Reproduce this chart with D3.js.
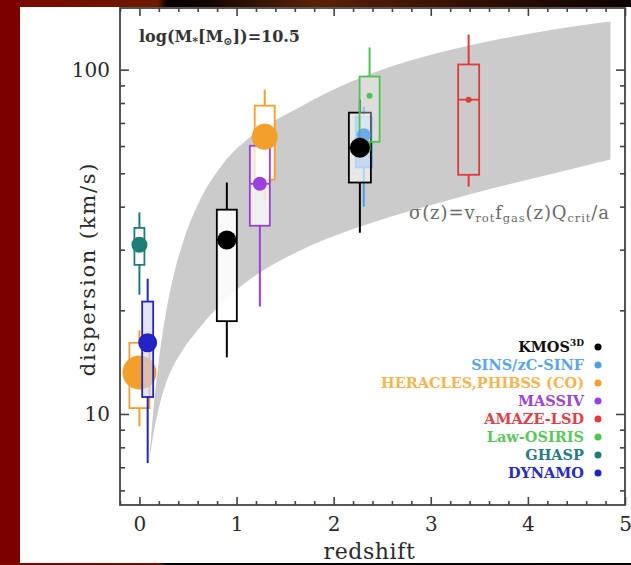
<!DOCTYPE html>
<html><head><meta charset="utf-8">
<script src="https://cdn.jsdelivr.net/npm/d3@7"></script>
<style>html,body{margin:0;padding:0;background:#7d0000;overflow:hidden}</style>
</head><body>
<svg id="c" width="631" height="565"></svg>
<script>
// ---------------- DATA ----------------
const legendSurveys = ["KMOS3D","SINS/zC-SINF","HERACLES,PHIBSS (CO)","MASSIV","AMAZE-LSD","Law-OSIRIS","GHASP","DYNAMO"];

// box-plot entries (velocity dispersion, km/s)
const boxSurvey   = ["HERACLES,PHIBSS (CO)","GHASP","DYNAMO","KMOS3D","HERACLES,PHIBSS (CO)","MASSIV","SINS/zC-SINF","KMOS3D","Law-OSIRIS","AMAZE-LSD"];
const boxZ        = [0.00, 0.00, 0.085, 0.90, 1.29, 1.24, 2.31, 2.27, 2.37, 3.39];
const whiskerLow  = [9.2, 22.2, 7.2, 14.6, 41.7, 20.5, 40.0, 33.6, 58.0, 45.7];
const boxLow      = [10.4, 27.1, 11.2, 18.6, 47.9, 35.2, 52.0, 47.0, 61.7, 49.5];
const boxMedian   = [13.2, 31.0, 16.1, 32.0, 63.8, 46.6, 64.5, 59.3, 84.0, 81.8];
const boxHigh     = [16.1, 34.7, 21.2, 39.2, 78.6, 60.1, 73.0, 75.0, 95.5, 103.5];
const whiskerHigh = [17.5, 38.5, 24.7, 47.0, 87.5, 68.6, 78.0, 81.8, 116.0, 126.4];

// model band sigma(z) = v_rot f_gas(z) Q_crit / a
const bandZ     = [0.10, 0.14, 0.20, 0.27, 0.35, 0.45, 0.62, 0.85, 1.14, 1.65, 2.17, 2.68, 3.20, 3.61, 4.20, 4.85];
const bandUpper = [7.3, 10.0, 14.3, 19.4, 25.1, 31.6, 41.6, 52.8, 63.7, 77.8, 92.0, 104, 114, 121, 130, 138];
const bandLower = [7.3, 8.6, 10.4, 12.2, 13.8, 15.4, 17.8, 21.0, 24.6, 29.8, 34.2, 38.1, 41.9, 45.0, 49.4, 54.8];

const xTickValues = [0, 1, 2, 3, 4, 5];
const yTickValues = [10, 100];
const yMinorValues = [6, 7, 8, 9, 20, 30, 40, 50, 60, 70, 80, 90];

// ---------------- STYLE ----------------
const surveyColor = {
  "KMOS3D":"#000000","SINS/zC-SINF":"#4d9de4","HERACLES,PHIBSS (CO)":"#f3a02a","MASSIV":"#9a3fe0",
  "AMAZE-LSD":"#e23a3a","Law-OSIRIS":"#4fc34f","GHASP":"#1f7d78","DYNAMO":"#2323c8"
};
const legendTextColor = {
  "KMOS3D":"#111","SINS/zC-SINF":"#5aa6ea","HERACLES,PHIBSS (CO)":"#f2b552","MASSIV":"#9b45df",
  "AMAZE-LSD":"#e0404a","Law-OSIRIS":"#5cc85c","GHASP":"#2b7a86","DYNAMO":"#2a2ac4"
};
const boxFill   = ["rgba(255,255,255,0.75)","rgba(255,255,255,0.9)","rgba(210,210,250,0.6)","rgba(255,255,255,0.88)","rgba(255,255,255,0.85)","rgba(255,255,255,0.7)","rgba(70,150,225,0.55)","rgba(255,255,255,0.55)","rgba(255,255,255,0.35)","none"];
const boxWidth  = [20, 10, 11, 20, 20, 20, 16, 22, 20, 21];
const markerR   = [17, 8, 9.5, 9.5, 13, 7, 7, 10, 3, 3];
const medianLine = [true, true, true, true, true, true, false, true, false, true];
const layer     = [0, 1, 1, 1, 1, 1, 1, 1, 1, 1];

const W = 631, H = 565;
const L = 120, R = 625, T = 8, B = 505;
const FONT = "'DejaVu Serif', serif";

const svg = d3.select("#c");
const defs = svg.append("defs");

// background decoration
const gTop = defs.append("linearGradient").attr("id","gtop");
[["0%","#7a0800"],["25%","#6c1a00"],["26.5%","#060000"],["33%","#150500"],["50%","#5a2208"],["70%","#3a1204"],["100%","#0c0200"]]
  .forEach(s => gTop.append("stop").attr("offset", s[0]).attr("stop-color", s[1]));
const gBot = defs.append("linearGradient").attr("id","gbot");
[["0%","#7a0800"],["25%","#6c1200"],["26.5%","#050000"],["100%","#080100"]]
  .forEach(s => gBot.append("stop").attr("offset", s[0]).attr("stop-color", s[1]));
svg.append("rect").attr("x",0).attr("y",0).attr("width",W).attr("height",H).attr("fill","#7d0000");
svg.append("rect").attr("x",0).attr("y",0).attr("width",W).attr("height",7).attr("fill","url(#gtop)");
svg.append("rect").attr("x",0).attr("y",0).attr("width",20).attr("height",H).attr("fill","#7d0000");
svg.append("rect").attr("x",20).attr("y",7).attr("width",W-20).attr("height",556).attr("fill","#ffffff");

defs.append("clipPath").attr("id","plotclip").append("rect")
  .attr("x",L).attr("y",T).attr("width",R-L).attr("height",B-T);

const x = d3.scaleLinear().domain([-0.2, 5.0]).range([L, R]);
const y = d3.scaleLog().domain([5.44, 151]).range([B, T]);

// band
const bandData = bandZ.map((z,i) => ({z, lo: bandLower[i], hi: bandUpper[i]}));
svg.append("path").datum(bandData)
  .attr("clip-path","url(#plotclip)")
  .attr("fill","#cbcbcb")
  .attr("d", d3.area().curve(d3.curveMonotoneX).x(d => x(d.z)).y0(d => y(d.lo)).y1(d => y(d.hi)));

// boxes
const items = boxZ.map((z,i) => ({
  i, z, s: boxSurvey[i], wl: whiskerLow[i], bl: boxLow[i], med: boxMedian[i], bh: boxHigh[i], wh: whiskerHigh[i]
}));
const plot = svg.append("g").attr("clip-path","url(#plotclip)");

function drawBox(g, d) {
  const c = surveyColor[d.s];
  const cx = x(d.z), w = boxWidth[d.i];
  g.append("line").attr("x1",cx).attr("x2",cx).attr("y1",y(d.wl)).attr("y2",y(d.bl))
    .attr("stroke",c).attr("stroke-width",2);
  g.append("line").attr("x1",cx).attr("x2",cx).attr("y1",y(d.bh)).attr("y2",y(d.wh))
    .attr("stroke",c).attr("stroke-width",2);
  g.append("rect").attr("x",cx-w/2).attr("y",y(d.bh)).attr("width",w).attr("height",y(d.bl)-y(d.bh))
    .attr("fill",boxFill[d.i]).attr("stroke",c).attr("stroke-width",1.8);
  if (medianLine[d.i]) {
    g.append("line").attr("x1",cx-w/2).attr("x2",cx+w/2).attr("y1",y(d.med)).attr("y2",y(d.med))
      .attr("stroke",c).attr("stroke-width",1.8);
  }
}
function drawMarker(g, d) {
  const c = surveyColor[d.s];
  g.append("circle").attr("cx",x(d.z)).attr("cy",y(d.med)).attr("r",markerR[d.i])
    .attr("fill",c).attr("fill-opacity", d.s === "SINS/zC-SINF" ? 0.8 : 1);
}
const layer0 = items.filter(d => layer[d.i] === 0);
const layer1 = items.filter(d => layer[d.i] === 1);
layer0.forEach(d => { drawBox(plot,d); drawMarker(plot,d); });
layer1.forEach(d => drawBox(plot,d));
layer1.forEach(d => drawMarker(plot,d));

// axes (ticks point inward)
function styleAxis(g) {
  g.select(".domain").remove();
  g.selectAll("line").attr("stroke","#444").attr("stroke-width",1.6);
  g.selectAll("text").attr("font-family",FONT).attr("font-size",20).attr("fill","#2a2a2a");
}
const minorX = d3.range(-0.2, 5.001, 0.2).filter(v => Math.abs(v - Math.round(v)) > 1e-6);

svg.append("g").attr("transform",`translate(0,${B})`)
  .call(d3.axisBottom(x).tickValues(xTickValues).tickFormat(d3.format("d")).tickSizeInner(-8).tickSizeOuter(0).tickPadding(12))
  .call(styleAxis);
svg.append("g").attr("transform",`translate(0,${B})`)
  .call(d3.axisBottom(x).tickValues(minorX).tickFormat("").tickSizeInner(-4).tickSizeOuter(0)).call(styleAxis);
svg.append("g").attr("transform",`translate(0,${T})`)
  .call(d3.axisTop(x).tickValues(xTickValues).tickFormat("").tickSizeInner(-8).tickSizeOuter(0)).call(styleAxis);
svg.append("g").attr("transform",`translate(0,${T})`)
  .call(d3.axisTop(x).tickValues(minorX).tickFormat("").tickSizeInner(-4).tickSizeOuter(0)).call(styleAxis);

svg.append("g").attr("transform",`translate(${L},0)`)
  .call(d3.axisLeft(y).tickValues(yTickValues).tickFormat(d3.format("d")).tickSizeInner(-9).tickSizeOuter(0).tickPadding(10))
  .call(styleAxis);
svg.append("g").attr("transform",`translate(${L},0)`)
  .call(d3.axisLeft(y).tickValues(yMinorValues).tickFormat("").tickSizeInner(-5).tickSizeOuter(0)).call(styleAxis);
svg.append("g").attr("transform",`translate(${R},0)`)
  .call(d3.axisRight(y).tickValues(yTickValues).tickFormat("").tickSizeInner(-9).tickSizeOuter(0)).call(styleAxis);
svg.append("g").attr("transform",`translate(${R},0)`)
  .call(d3.axisRight(y).tickValues(yMinorValues).tickFormat("").tickSizeInner(-5).tickSizeOuter(0)).call(styleAxis);

// frame
svg.append("rect").attr("x",L).attr("y",T).attr("width",R-L).attr("height",B-T)
  .attr("fill","none").attr("stroke","#444").attr("stroke-width",1.8);

// axis titles
svg.append("text").attr("x",(L+R)/2 - 3).attr("y",559).attr("text-anchor","middle")
  .attr("font-family",FONT).attr("font-size",22).attr("letter-spacing",0.6).attr("fill","#2a2a2a").text("redshift");
svg.append("text").attr("transform",`translate(95,${269}) rotate(-90)`).attr("text-anchor","middle")
  .attr("font-family",FONT).attr("font-size",21).attr("fill","#2a2a2a").attr("letter-spacing",1.8)
  .text("dispersion (km/s)");

// bottom strip
svg.append("rect").attr("x",0).attr("y",563).attr("width",W).attr("height",2).attr("fill","url(#gbot)");

// top-left label
const lab = svg.append("text").attr("x",139).attr("y",42)
  .attr("font-family",FONT).attr("font-size",16).attr("font-weight","bold").attr("fill","#333");
lab.append("tspan").text("log(M");
lab.append("tspan").attr("font-size",11).attr("dy",3).text("*");
lab.append("tspan").attr("dy",-3).text("[M");
lab.append("tspan").attr("font-size",11).attr("dy",3).text("\u2299");
lab.append("tspan").attr("dy",-3).text("])=10.5");

// formula annotation
const f = svg.append("text").attr("x",409).attr("y",219)
  .attr("font-family",FONT).attr("font-size",18).attr("letter-spacing",0.9).attr("fill","#6a6a6a");
f.append("tspan").text("\u03c3(z)=v");
f.append("tspan").attr("font-size",11.5).attr("dy",3).text("rot");
f.append("tspan").attr("dy",-3).text("f");
f.append("tspan").attr("font-size",11.5).attr("dy",3).text("gas");
f.append("tspan").attr("dy",-3).text("(z)Q");
f.append("tspan").attr("font-size",11.5).attr("dy",3).text("crit");
f.append("tspan").attr("dy",-3).text("/a");

// legend
const lg = svg.append("g");
legendSurveys.forEach((s, k) => {
  const yy = 347 + 18 * k;
  const t = lg.append("text").attr("x",584).attr("y",yy + 5).attr("text-anchor","end")
    .attr("font-family",FONT).attr("font-size",14.5).attr("font-weight","bold").attr("fill",legendTextColor[s]);
  if (s === "KMOS3D") {
    t.append("tspan").text("KMOS");
    t.append("tspan").attr("font-size",9).attr("dy",-6).text("3D");
  } else {
    t.text(s);
  }
  lg.append("circle").attr("cx",598).attr("cy",yy).attr("r",3.5).attr("fill",surveyColor[s]);
});
</script>
</body></html>
